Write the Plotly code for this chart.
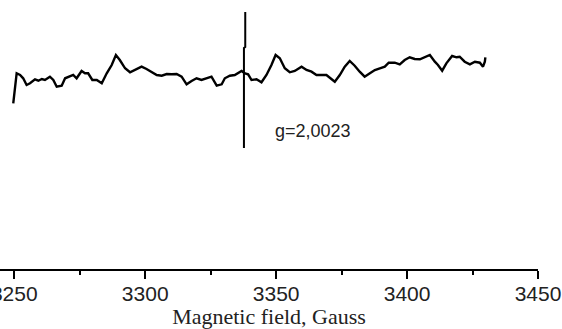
import plotly.graph_objects as go

# EPR spectrum, arbitrary intensity units
field = [3249.6, 3250.0, 3250.9, 3252.2, 3253.4, 3254.7, 3256.0, 3257.9, 3259.2, 3260.5,
         3261.7, 3263.6, 3264.9, 3266.2, 3268.1, 3269.4, 3271.3, 3272.5, 3273.8, 3275.7,
         3277.0, 3278.2, 3279.8, 3281.5, 3283.4, 3285.3, 3287.2, 3288.8, 3290.3, 3292.3,
         3294.2, 3296.1, 3298.6, 3300.5, 3302.4, 3304.4, 3306.3, 3308.2, 3310.1, 3312.0,
         3313.9, 3315.8, 3317.7, 3319.6, 3321.5, 3323.4, 3325.3, 3327.3, 3329.2, 3330.4,
         3332.3, 3334.2, 3335.5, 3336.8, 3338.1, 3339.3, 3340.6, 3342.5, 3344.4, 3346.3,
         3348.2, 3349.8, 3351.4, 3353.3, 3355.2, 3357.1, 3359.7, 3361.6, 3363.5, 3365.4,
         3367.3, 3369.2, 3370.5, 3372.4, 3374.3, 3376.2, 3378.1, 3380.0, 3381.9, 3383.8,
         3385.8, 3387.7, 3389.6, 3391.5, 3393.0, 3395.3, 3397.2, 3399.1, 3401.0, 3402.9,
         3404.9, 3406.5, 3408.7, 3410.6, 3411.8, 3413.4, 3415.0, 3417.2, 3418.9, 3420.1,
         3422.0, 3424.0, 3425.9, 3427.8, 3429.0, 3429.7, 3429.9]
intensity = [-25.3, -13.7, 4.7, 3.0, -0.3, -7.0, -5.3, -1.3, -2.7, -1.0,
             -2.0, 1.3, -2.0, -8.7, -7.7, -0.3, 2.0, 3.0, -0.3, 7.0,
             4.7, 4.7, -2.0, -2.0, -5.3, 4.7, 13.0, 23.0, 18.0, 9.7,
             5.7, 8.0, 11.3, 9.0, 6.3, 3.0, 2.3, 4.0, 3.7, 4.0,
             1.3, -6.3, -3.0, -0.3, -2.0, -0.3, 1.3, -7.7, -6.3, -0.3,
             2.3, 3.0, 4.7, 7.0, 4.7, 3.7, -2.0, -1.3, -4.3, 3.0,
             13.0, 23.0, 19.7, 9.7, 5.7, 7.0, 11.3, 8.0, 6.3, 3.0,
             3.0, 3.0, 0.3, -3.7, 3.0, 11.3, 17.0, 12.3, 6.3, 1.3,
             4.7, 8.0, 9.7, 11.3, 15.3, 15.3, 13.7, 18.0, 20.7, 19.0,
             18.7, 20.7, 23.0, 16.3, 13.0, 7.3, 14.7, 22.0, 20.7, 21.3,
             16.3, 13.7, 16.3, 15.3, 11.3, 16.3, 20.7]

# g-marker line
g_field = [3338.2, 3338.2, 3337.7, 3337.7]
g_int = [66, 31, 30, -70]
g_label = "g=2,0023"
g_label_field = 3348.8
g_label_int = -53

x_ticks = [3250, 3300, 3350, 3400, 3450]
x_minor = [3275, 3325, 3375, 3425]
x_title = "Magnetic field, Gauss"

fig = go.Figure()
fig.add_trace(go.Scatter(x=field, y=intensity, mode="lines",
                         line=dict(color="black", width=2.4), hoverinfo="skip"))
fig.add_trace(go.Scatter(x=g_field, y=g_int, mode="lines",
                         line=dict(color="black", width=2), hoverinfo="skip"))
fig.add_annotation(x=g_label_field, y=g_label_int, text=g_label, showarrow=False,
                   xanchor="left", yanchor="middle",
                   font=dict(family="Liberation Sans, Arial", size=18, color="#222"))

fig.update_layout(
    width=562, height=329,
    margin=dict(l=0, r=24, t=0, b=60, autoexpand=False),
    paper_bgcolor="white", plot_bgcolor="white",
    showlegend=False,
    xaxis=dict(
        range=[3244.54, 3450], tickvals=x_ticks, ticktext=[str(v) for v in x_ticks],
        automargin=False,
        ticks="outside", ticklen=8, tickwidth=2, tickcolor="black",
        ticklabeloverflow="allow", ticklabelstandoff=-3,
        showline=True, linewidth=2, linecolor="black", showgrid=False, zeroline=False,
        tickfont=dict(family="Liberation Sans, Arial", size=21, color="#222"),
        minor=dict(tickvals=x_minor, ticks="outside", ticklen=4,
                   tickwidth=2, tickcolor="black", showgrid=False),
        title=dict(text=x_title, standoff=5,
                   font=dict(family="Liberation Serif, Times New Roman", size=22, color="#222")),
    ),
    yaxis=dict(visible=False, range=[-191, 78], automargin=False),
)

fig.write_html("out.html", config={"displayModeBar": False},
               post_script="document.body.style.margin='0';document.body.style.overflow='hidden';")
